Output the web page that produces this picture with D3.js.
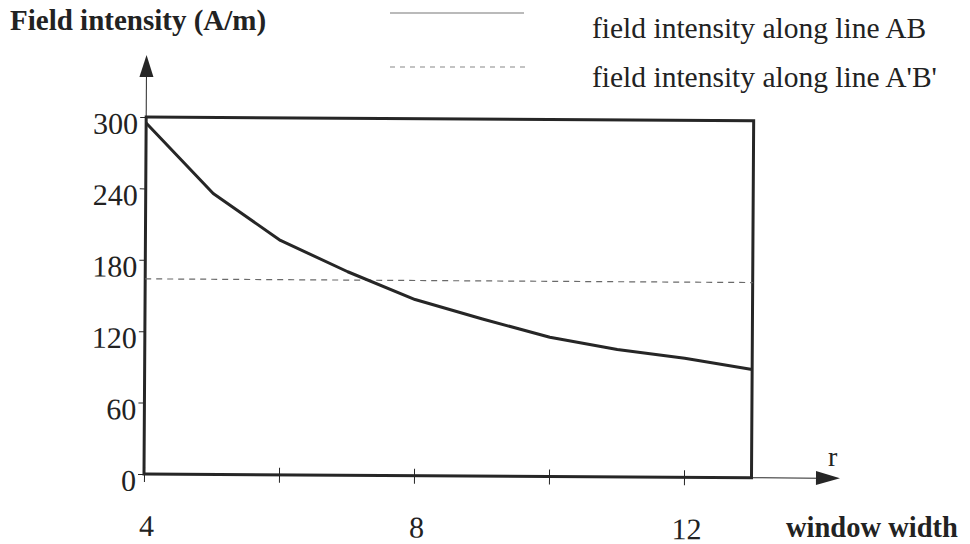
<!DOCTYPE html>
<html>
<head>
<meta charset="utf-8">
<script src="https://cdn.jsdelivr.net/npm/d3@7"></script>
<style>
  html, body { margin: 0; padding: 0; background: #fff; }
  svg { display: block; }
  text { font-family: "Liberation Serif", "Times New Roman", serif; fill: #222; }
</style>
</head>
<body>
<svg id="chart" width="970" height="544"></svg>
<script>
// Window width r and field intensity values
const widths = [4, 5, 6, 7, 8, 9, 10, 11, 12, 13];
const alongAB = [295, 236, 197, 171, 148, 132, 117, 107, 100, 91];
const alongApBp = [164, 164];
const apBpWidths = [4, 13];

const yTicks = [0, 60, 120, 180, 240, 300];
const xTicks = [4, 6, 8, 10, 12];
const xTickLabels = [4, 8, 12];

const seriesNames = ["field intensity along line AB", "field intensity along line A'B'"];
const yTitle = "Field intensity (A/m)";
const xTitle = "window width";
const xVar = "r";

const svg = d3.select("#chart");
const ink = "#262626";

const x = d3.scaleLinear().domain([4, 13]).range([144, 751.5]);
const y = d3.scaleLinear().domain([0, 300]).range([474, 117]);

// Plot area (slightly rotated, as drawn on the page)
const g = svg.append("g").attr("transform", "rotate(0.35,144,474)");

// Thin axis extensions with arrowheads
g.append("line").attr("x1", x(4)).attr("x2", x(4)).attr("y1", y(300)).attr("y2", 74)
  .attr("stroke", ink).attr("stroke-width", 1);
g.append("path").attr("d", `M${x(4)},55 L${x(4) - 7},77 L${x(4) + 7},77 Z`).attr("fill", ink);
g.append("line").attr("x1", x(13)).attr("x2", 820).attr("y1", y(0)).attr("y2", y(0))
  .attr("stroke", ink).attr("stroke-width", 1);
g.append("path").attr("d", `M840,${y(0)} L816,${y(0) - 7} L816,${y(0) + 7} Z`).attr("fill", ink);

// Y axis ticks
const yAxis = d3.axisLeft(y).tickValues(yTicks).tickSize(6).tickFormat("");
const ya = g.append("g").attr("transform", `translate(${x(4)},0)`).call(yAxis);
ya.select(".domain").remove();
ya.selectAll(".tick line").attr("stroke", ink).attr("stroke-width", 1);

// X axis ticks (crossing the axis)
const xAxis = d3.axisBottom(x).tickValues(xTicks).tickSize(8).tickFormat("");
const xa = g.append("g").attr("transform", `translate(0,${y(0) - 7})`).call(xAxis);
xa.select(".domain").remove();
xa.selectAll(".tick line").attr("stroke", ink).attr("stroke-width", 1).attr("y2", 15);

// Frame
g.append("rect")
  .attr("x", x(4)).attr("y", y(300))
  .attr("width", x(13) - x(4)).attr("height", y(0) - y(300))
  .attr("fill", "none").attr("stroke", ink).attr("stroke-width", 3);

// Y tick labels
g.selectAll(".ylab").data(yTicks).enter().append("text")
  .attr("x", 136).attr("y", d => y(d) + 17)
  .attr("text-anchor", "end").attr("font-size", 30)
  .text(d => d);

// X tick labels
g.selectAll(".xlab").data(xTickLabels).enter().append("text")
  .attr("x", d => x(d) + 3).attr("y", 536)
  .attr("text-anchor", "middle").attr("font-size", 30)
  .text(d => d);

// Dashed series A'B'
const lineGen = d3.line().x(d => x(d[0])).y(d => y(d[1]));
g.append("path")
  .datum(apBpWidths.map((w, i) => [w, alongApBp[i]]))
  .attr("d", lineGen)
  .attr("fill", "none").attr("stroke", "#6a6a6a").attr("stroke-width", 1.2)
  .attr("stroke-dasharray", "6,5");

// Solid series AB
g.append("path")
  .datum(widths.map((w, i) => [w, alongAB[i]]))
  .attr("d", lineGen)
  .attr("fill", "none").attr("stroke", ink).attr("stroke-width", 3)
  .attr("stroke-linejoin", "round");

// Axis variable name
svg.append("text").attr("x", 828).attr("y", 466).attr("font-size", 28).text(xVar);

// Titles
svg.append("text").attr("x", 10).attr("y", 30).attr("font-size", 29)
  .attr("font-weight", "bold").text(yTitle);
svg.append("text").attr("x", 786).attr("y", 537).attr("font-size", 28.5)
  .attr("font-weight", "bold").text(xTitle);

// Legend
const legend = svg.append("g");
legend.append("line").attr("x1", 390).attr("x2", 524).attr("y1", 13).attr("y2", 13)
  .attr("stroke", "#777").attr("stroke-width", 1.2);
legend.append("line").attr("x1", 390).attr("x2", 527).attr("y1", 67).attr("y2", 67)
  .attr("stroke", "#888").attr("stroke-width", 1.2).attr("stroke-dasharray", "5,5");
legend.selectAll(".lg").data(seriesNames).enter().append("text")
  .attr("x", 592).attr("y", (d, i) => 38 + i * 49)
  .attr("font-size", 29.5)
  .text(d => d);
</script>
</body>
</html>
